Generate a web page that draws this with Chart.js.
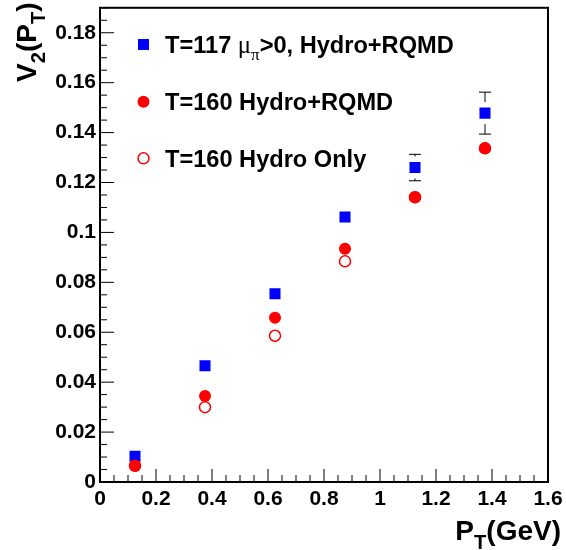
<!DOCTYPE html>
<html>
<head>
<meta charset="utf-8">
<script src="https://cdn.jsdelivr.net/npm/chart.js@4/dist/chart.umd.min.js"></script>
<style>
  html, body { margin: 0; padding: 0; background: #fff; }
  canvas { display: block; }
</style>
</head>
<body>
<canvas id="v2Chart" width="566" height="550"></canvas>
<script>
/* ================= DATA ================= */

const ptBins = [0.125, 0.375, 0.625, 0.875, 1.125, 1.375];

const v2Mu = [0.0103, 0.0466, 0.0754, 0.1062, 0.1260, 0.1478];
const v2MuErr = [0, 0, 0, 0, 0.0053, 0.0084];
const v2Rqmd = [0.0065, 0.0345, 0.0658, 0.0935, 0.1141, 0.1337];
const v2Hydro = [0.0065, 0.0300, 0.0586, 0.0884, 0.1141, 0.1337];

const xTicks = [0, 0.2, 0.4, 0.6, 0.8, 1, 1.2, 1.4, 1.6];
const yTicks = [0, 0.02, 0.04, 0.06, 0.08, 0.1, 0.12, 0.14, 0.16, 0.18];

const legendRows = [
  [{ t: "T=117 " }, { t: "μ", sym: true, big: true }, { t: "π", sym: true, sub: true }, { t: ">0, Hydro+RQMD" }],
  [{ t: "T=160 Hydro+RQMD" }],
  [{ t: "T=160 Hydro Only" }]
];
const yTitle = [{ t: "V" }, { t: "2", sub: true }, { t: "(P" }, { t: "T", sub: true }, { t: ")" }];
const xTitle = [{ t: "P" }, { t: "T", sub: true }, { t: "(GeV)" }];

/* ================= HELPERS ================= */

const FONT = "'Liberation Sans', Arial, sans-serif";

function partFont(p, size) {
  let s = p.sub ? size * 0.72 : size;
  if (p.big) s = size * 1.05;
  return p.sym ? s + "px 'Liberation Serif', serif" : "bold " + s + "px " + FONT;
}

function drawRich(ctx, parts, x, y, size, align) {
  let w = 0;
  parts.forEach(p => {
    ctx.font = partFont(p, size);
    p.w = ctx.measureText(p.t).width;
    w += p.w;
  });
  let cx = align === "right" ? x - w : x;
  ctx.textAlign = "left";
  ctx.textBaseline = "alphabetic";
  parts.forEach(p => {
    ctx.font = partFont(p, size);
    ctx.fillText(p.t, cx, y + (p.sub ? size * 0.32 : 0));
    cx += p.w;
  });
}

function fixedTicks(list) {
  return scale => { scale.ticks = list.map(v => ({ value: v })); };
}

/* ================= PLUGINS ================= */

const frameAndTicks = {
  id: "frameAndTicks",
  afterDraw(chart) {
    const ctx = chart.ctx;
    const a = chart.chartArea;
    const xs = chart.scales.x, ys = chart.scales.y;
    ctx.save();
    ctx.strokeStyle = "#000";

    ctx.lineWidth = 1;
    ctx.beginPath();
    // y axis ticks (inward)
    for (let i = 0; i < yTicks.length; i++) {
      const py = ys.getPixelForValue(yTicks[i]);
      ctx.moveTo(a.left, py); ctx.lineTo(a.left + 14, py);
      const next = i + 1 < yTicks.length ? yTicks[i + 1] : ys.max;
      const step = (yTicks[1] - yTicks[0]) / 4;
      for (let k = 1; k < 4; k++) {
        const v = yTicks[i] + k * step;
        if (v > next + 1e-9 || v > ys.max) break;
        const pm = ys.getPixelForValue(v);
        ctx.moveTo(a.left, pm); ctx.lineTo(a.left + 7, pm);
      }
    }
    // x axis ticks (inward)
    for (let i = 0; i < xTicks.length; i++) {
      const px = xs.getPixelForValue(xTicks[i]);
      ctx.moveTo(px, a.bottom); ctx.lineTo(px, a.bottom - 13);
      if (i + 1 < xTicks.length) {
        const step = (xTicks[i + 1] - xTicks[i]) / 4;
        for (let k = 1; k < 4; k++) {
          const pm = xs.getPixelForValue(xTicks[i] + k * step);
          ctx.moveTo(pm, a.bottom); ctx.lineTo(pm, a.bottom - 7);
        }
      }
    }
    ctx.stroke();

    ctx.lineWidth = 2;
    ctx.strokeRect(a.left, a.top, a.right - a.left, a.bottom - a.top);

    // axis titles
    ctx.fillStyle = "#000";
    drawRich(ctx, xTitle, 561, 540, 28, "right");
    ctx.translate(36, 82);
    ctx.rotate(-Math.PI / 2);
    drawRich(ctx, yTitle, 0, 0, 28, "left");
    ctx.restore();

    // legend
    ctx.save();
    const rowY = [44.5, 101.7, 158.3];
    const mx = 143.5;
    ctx.fillStyle = "#0000ff";
    ctx.fillRect(mx - 5.5, rowY[0] - 5.5, 11, 11);
    ctx.fillStyle = "#ff0000";
    ctx.beginPath(); ctx.arc(mx, rowY[1], 6, 0, Math.PI * 2); ctx.fill();
    ctx.strokeStyle = "#ff0000"; ctx.lineWidth = 1.5;
    ctx.beginPath(); ctx.arc(mx, rowY[2], 5.5, 0, Math.PI * 2); ctx.stroke();
    ctx.fillStyle = "#000";
    legendRows.forEach((parts, i) => drawRich(ctx, parts, 165, rowY[i] + 8.4, 23.6, "left"));
    ctx.restore();
  }
};

const errorBars = {
  id: "errorBars",
  afterDatasetsDraw(chart) {
    const ctx = chart.ctx;
    const ys = chart.scales.y;
    const meta = chart.getDatasetMeta(0);
    ctx.save();
    ctx.strokeStyle = "#000";
    ctx.lineWidth = 1;
    ctx.beginPath();
    meta.data.forEach((pt, i) => {
      const err = v2MuErr[i];
      if (!err) return;
      const top = ys.getPixelForValue(v2Mu[i] + err);
      const bot = ys.getPixelForValue(v2Mu[i] - err);
      const gap = 11;
      if (top < pt.y - gap) {
        ctx.moveTo(pt.x, top); ctx.lineTo(pt.x, pt.y - gap);
        ctx.moveTo(pt.x - 6, top); ctx.lineTo(pt.x + 6, top);
      }
      if (bot > pt.y + gap) {
        ctx.moveTo(pt.x, bot); ctx.lineTo(pt.x, pt.y + gap);
        ctx.moveTo(pt.x - 6, bot); ctx.lineTo(pt.x + 6, bot);
      }
    });
    ctx.stroke();
    ctx.restore();
  }
};

/* ================= CHART ================= */

const toPoints = vals => ptBins.map((x, i) => ({ x: x, y: vals[i] }));

new Chart(document.getElementById("v2Chart"), {
  type: "scatter",
  data: {
    datasets: [
      {
        label: "T=117 μπ>0, Hydro+RQMD",
        data: toPoints(v2Mu),
        pointStyle: "rect",
        pointRadius: 7.8,
        backgroundColor: "#0000ff",
        borderWidth: 0,
        order: 3
      },
      {
        label: "T=160 Hydro+RQMD",
        data: toPoints(v2Rqmd),
        pointStyle: "circle",
        pointRadius: 6,
        backgroundColor: "#ff0000",
        borderWidth: 0,
        order: 2
      },
      {
        label: "T=160 Hydro Only",
        data: toPoints(v2Hydro),
        pointStyle: "circle",
        pointRadius: 5.5,
        backgroundColor: "rgba(0,0,0,0)",
        borderColor: "#ff0000",
        borderWidth: 1.5,
        order: 1
      }
    ]
  },
  options: {
    responsive: false,
    animation: false,
    devicePixelRatio: 1,
    layout: { padding: { top: 3, right: 18, left: 0, bottom: 0 } },
    plugins: { legend: { display: false }, tooltip: { enabled: false } },
    scales: {
      x: {
        type: "linear",
        min: 0,
        max: 1.6,
        afterBuildTicks: fixedTicks(xTicks),
        afterFit(scale) {
          scale.height = 68;
          scale.paddingLeft = 0; scale.paddingRight = 0;
        },
        grid: { display: false, drawTicks: false },
        border: { display: false },
        ticks: {
          padding: 5,
          color: "#000",
          font: { family: FONT, size: 21, weight: "bold" },
          maxRotation: 0,
          autoSkip: false,
          callback: v => String(+v.toFixed(3))
        }
      },
      y: {
        type: "linear",
        min: 0,
        max: 0.19,
        afterBuildTicks: fixedTicks(yTicks),
        afterFit(scale) {
          scale.width = 100;
          scale.paddingTop = 0; scale.paddingBottom = 0;
        },
        grid: { display: false, drawTicks: false },
        border: { display: false },
        ticks: {
          padding: 4,
          color: "#000",
          font: { family: FONT, size: 21, weight: "bold" },
          autoSkip: false,
          callback: v => String(+v.toFixed(3))
        }
      }
    }
  },
  plugins: [errorBars, frameAndTicks]
});
</script>
</body>
</html>
